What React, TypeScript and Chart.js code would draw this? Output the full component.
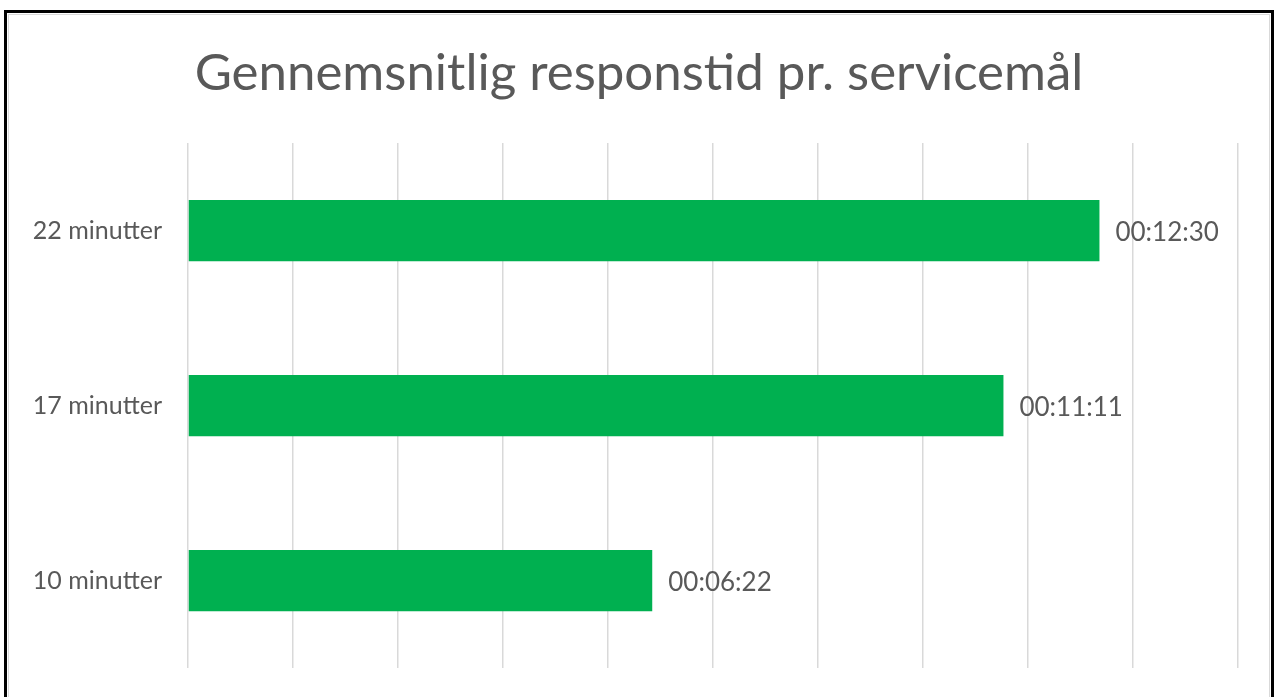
import React, { useEffect, useRef } from "react";
import { Chart, registerables } from "chart.js";

Chart.register(...registerables);

const titleText = "Gennemsnitlig responstid pr. servicemål";
const categories = ["22 minutter", "17 minutter", "10 minutter"];
// average response times in seconds (00:12:30, 00:11:11, 00:06:22)
const responseSeconds = [750, 671, 382];
const axisMaxSeconds = 864; // 0.01 day
const axisStepSeconds = 86.4; // 0.001 day

const FONT = "Lato";
const GRAY = "#595959";
const GREEN = "#00B050";

function fmt(sec: number): string {
  const s = Math.round(sec);
  const h = Math.floor(s / 3600);
  const m = Math.floor((s % 3600) / 60);
  const r = s % 60;
  const p = (n: number) => String(n).padStart(2, "0");
  return `${p(h)}:${p(m)}:${p(r)}`;
}

const dataLabelPlugin = {
  id: "barValueLabels",
  afterDatasetsDraw(chart: any) {
    const ctx = chart.ctx;
    const meta = chart.getDatasetMeta(0);
    ctx.save();
    ctx.font = `26px ${FONT}`;
    ctx.fillStyle = GRAY;
    ctx.textAlign = "left";
    ctx.textBaseline = "middle";
    meta.data.forEach((el: any, i: number) => {
      const v = chart.data.datasets[0].data[i] as number;
      ctx.fillText(fmt(v), el.x + 16, el.y + 2);
    });
    ctx.restore();
  },
};

const titlePlugin = {
  id: "excelTitle",
  afterDraw(chart: any) {
    const ctx = chart.ctx;
    ctx.save();
    ctx.font = `51px ${FONT}`;
    ctx.fillStyle = GRAY;
    ctx.textAlign = "center";
    ctx.textBaseline = "alphabetic";
    ctx.fillText(titleText, 639, 90);
    ctx.restore();
  },
};

export default function App() {
  const ref = useRef<HTMLCanvasElement | null>(null);
  useEffect(() => {
    document.body.style.margin = "0";
    const canvas = ref.current!;
    const chart = new Chart(canvas, {
      type: "bar",
      data: {
        labels: categories,
        datasets: [
          {
            data: responseSeconds,
            backgroundColor: GREEN,
            borderWidth: 0,
            barPercentage: 0.35,
            categoryPercentage: 1,
          },
        ],
      },
      options: {
        indexAxis: "y",
        responsive: false,
        animation: false,
        layout: { padding: { top: 143, right: 36, bottom: 29, left: 0 } },
        plugins: {
          legend: { display: false },
          tooltip: { enabled: false },
          title: { display: false },
        },
        scales: {
          x: {
            min: 0,
            max: axisMaxSeconds,
            ticks: { display: false, stepSize: axisStepSeconds },
            grid: { color: "#d9d9d9", lineWidth: 1.5, drawTicks: false },
            border: { display: false },
          },
          y: {
            ticks: {
              color: GRAY,
              padding: 26,
              font: { family: FONT, size: 25 },
            },
            grid: { display: false, drawTicks: false },
            border: { display: false },
            afterFit: (scale: any) => {
              scale.width = 188;
              scale.paddingTop = 0;
              scale.paddingBottom = 0;
            },
          },
        },
      },
      plugins: [dataLabelPlugin, titlePlugin],
    });
    return () => chart.destroy();
  }, []);

  return (
    <div style={{ position: "relative", width: 1274, height: 697, background: "#fff", overflow: "hidden" }}>
      <canvas ref={ref} width={1274} height={697} style={{ position: "absolute", left: 0, top: 0 }} />
      <div
        style={{
          position: "absolute",
          left: 4,
          top: 10,
          width: 1270,
          height: 700,
          boxSizing: "border-box",
          border: "3px solid #000",
          pointerEvents: "none",
        }}
      >
        <div
          style={{
            position: "absolute",
            left: 1,
            top: 1,
            right: 1,
            bottom: 1,
            border: "1px solid #d9d9d9",
          }}
        />
      </div>
    </div>
  );
}
